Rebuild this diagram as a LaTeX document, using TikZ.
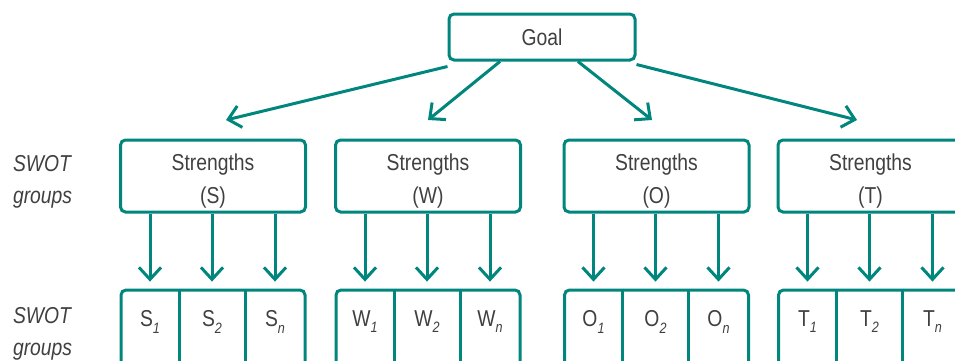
\documentclass[tikz,border=0pt]{standalone}
\usepackage{fontspec}
\setmainfont{Liberation Sans}[FakeStretch=0.84]
\usetikzlibrary{arrows.meta,positioning}
\definecolor{swotteal}{RGB}{0,134,124}
\definecolor{swotgray}{RGB}{64,64,64}
\newcommand{\cellsub}[1]{\raisebox{-0.5ex}{\fontsize{7.5}{8}\selectfont\itshape #1}}

\begin{document}
\begin{tikzpicture}[x=0.5pt, y=-0.5pt,
  box/.style={rectangle, draw=swotteal, line width=1.5pt, rounded corners=2.5pt,
    text=swotgray, font=\fontsize{11.5}{16.5}\selectfont, align=center},
  rowbox/.style={rectangle, draw=swotteal, line width=1.5pt, rounded corners=2.5pt,
    minimum width=92pt, minimum height=45pt},
  cell/.style={rectangle, inner sep=0pt, minimum width=28pt, minimum height=32pt,
    text=swotgray, font=\fontsize{11.5}{14}\selectfont},
  arr/.style={-{Straight Barb[length=6pt,width=11pt]}, draw=swotteal, line width=1.5pt},
  divider/.style={draw=swotteal, line width=1.5pt},
  side/.style={anchor=west, text=swotgray, font=\fontsize{11.5}{16}\selectfont\itshape, align=left}]

  \useasboundingbox (0,0) rectangle (955,360);
  \clip (0,0) rectangle (955,360);

  % Goal at the top
  \node[box, minimum width=93pt, minimum height=23pt] (goal) at (542,37) {Goal};

  % Side labels
  \node[side] (toplabel) at (6,182) {SWOT\\groups};
  \node[side] (botlabel) at (6,334) {SWOT\\groups};

  % Ends of the arrows from the goal
  \coordinate (sin) at (226,120);
  \coordinate (win) at (428,120);
  \coordinate (oin) at (652,120);
  \coordinate (tin) at (857,120);

  % Groups with their items
  \foreach \g/\gl/\x in {s/S/213, w/W/428, o/O/656.5, t/T/870.5} {
    \node[box, inner ysep=1pt, minimum width=92.5pt, minimum height=36pt] (\g-grp) at (\x,176) {\rule{0pt}{13.5pt}Strengths\\(\gl)};
    \node[rowbox] (\g-row) at (\x,335) {};
    \node[cell] (\g1) at (\x-63,322) {\gl\cellsub{1}};
    \node[cell] (\g2) at (\x-1,322) {\gl\cellsub{2}};
    \node[cell] (\g3) at (\x+62,322) {\gl\cellsub{n}};
    \draw[divider] ([xshift=-17pt]\g-row.north) -- ([xshift=-17pt]\g-row.south);
    \draw[divider] ([xshift=16pt]\g-row.north) -- ([xshift=16pt]\g-row.south);
    \draw[arr, shorten >=4pt] (\g-grp.south -| \g1.north) -- (\g1.north);
    \draw[arr, shorten >=4pt] (\g-grp.south -| \g2.north) -- (\g2.north);
    \draw[arr, shorten >=4pt] (\g-grp.south -| \g3.north) -- (\g3.north);
  }

  % Arrows from the goal
  \draw[arr] ([yshift=-2.5pt]goal.south west) -- (sin);
  \draw[arr] ([xshift=-21pt]goal.south) -- (win);
  \draw[arr] ([xshift=18pt]goal.south) -- (oin);
  \draw[arr] ([yshift=-1.5pt]goal.south east) -- (tin);
\end{tikzpicture}
\end{document}
